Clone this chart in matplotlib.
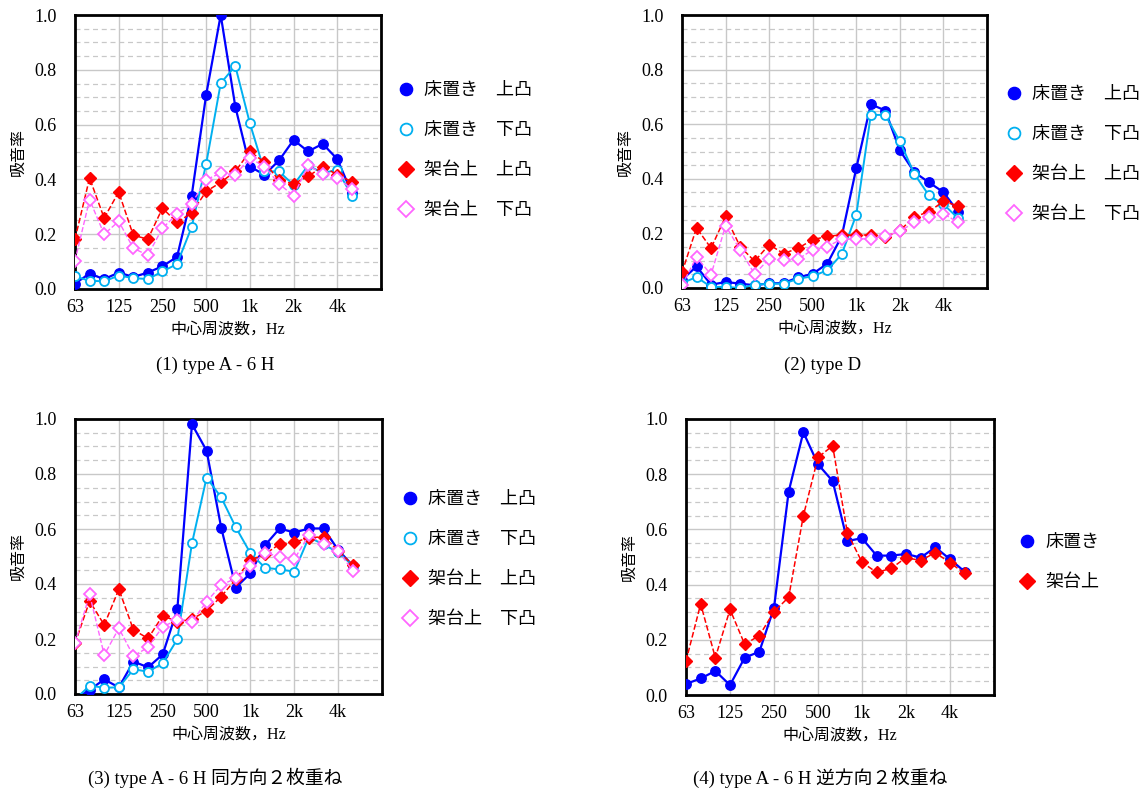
import matplotlib
matplotlib.use('Agg')
import matplotlib.pyplot as plt
from matplotlib.ticker import MultipleLocator, FixedLocator, FormatStrFormatter
import numpy as np

plt.rcParams['font.family'] = ['Liberation Serif', 'Noto Sans CJK JP']

# 1/3オクターブ中心周波数 (63Hz - 5kHz)
freqs = ['63', '80', '100', '125', '160', '200', '250', '315', '400', '500',
         '630', '800', '1k', '1.25k', '1.6k', '2k', '2.5k', '3.15k', '4k', '5k']
tick_labels = ['63', '125', '250', '500', '1k', '2k', '4k']

# (1) type A - 6 H
a6h_floor_up = [0.02, 0.056, 0.036, 0.06, 0.044, 0.06, 0.083, 0.117, 0.338, 0.708,
                1.0, 0.666, 0.447, 0.417, 0.469, 0.544, 0.502, 0.53, 0.474, 0.35]
a6h_floor_down = [0.046, 0.03, 0.028, 0.049, 0.04, 0.036, 0.064, 0.091, 0.225, 0.456,
                  0.751, 0.814, 0.605, 0.43, 0.429, 0.38, 0.451, 0.423, 0.435, 0.341]
a6h_stand_up = [0.182, 0.405, 0.259, 0.354, 0.196, 0.182, 0.295, 0.243, 0.277, 0.356,
                0.389, 0.429, 0.502, 0.463, 0.396, 0.384, 0.411, 0.447, 0.417, 0.392]
a6h_stand_down = [0.103, 0.326, 0.2, 0.247, 0.149, 0.123, 0.222, 0.273, 0.311, 0.399,
                  0.423, 0.417, 0.478, 0.447, 0.384, 0.34, 0.451, 0.42, 0.405, 0.365]

# (2) type D
d_floor_up = [0.03, 0.079, 0.012, 0.022, 0.016, 0.01, 0.017, 0.018, 0.039, 0.052,
              0.089, 0.19, 0.439, 0.673, 0.65, 0.504, 0.424, 0.387, 0.351, 0.28]
d_floor_down = [0.018, 0.04, 0.004, 0.004, 0.0, 0.012, 0.016, 0.016, 0.034, 0.043,
                0.065, 0.124, 0.268, 0.634, 0.634, 0.537, 0.418, 0.339, 0.307, 0.256]
d_stand_up = [0.057, 0.22, 0.146, 0.262, 0.152, 0.098, 0.159, 0.126, 0.146, 0.177,
              0.189, 0.195, 0.193, 0.195, 0.187, 0.211, 0.26, 0.28, 0.317, 0.301]
d_stand_down = [0.01, 0.113, 0.049, 0.228, 0.14, 0.051, 0.107, 0.101, 0.106, 0.14,
                0.152, 0.179, 0.18, 0.18, 0.191, 0.207, 0.241, 0.259, 0.272, 0.241]

# (3) type A - 6 H 同方向2枚重ね
same_floor_up = [-0.02, 0.015, 0.053, 0.024, 0.118, 0.097, 0.144, 0.308, 0.981, 0.885,
                 0.605, 0.387, 0.439, 0.541, 0.602, 0.587, 0.602, 0.602, 0.524, 0.467]
same_floor_down = [-0.02, 0.03, 0.023, 0.024, 0.09, 0.081, 0.112, 0.199, 0.548, 0.787,
                   0.715, 0.606, 0.512, 0.459, 0.453, 0.445, 0.57, 0.544, 0.515, 0.467]
same_stand_up = [0.184, 0.338, 0.251, 0.381, 0.233, 0.202, 0.285, 0.263, 0.272, 0.303,
                 0.354, 0.418, 0.487, 0.509, 0.545, 0.552, 0.568, 0.572, 0.521, 0.469]
same_stand_down = [0.184, 0.362, 0.142, 0.239, 0.138, 0.17, 0.245, 0.269, 0.263, 0.336,
                   0.396, 0.421, 0.467, 0.514, 0.499, 0.49, 0.578, 0.545, 0.521, 0.448]

# (4) type A - 6 H 逆方向2枚重ね
rev_floor = [0.04, 0.06, 0.087, 0.036, 0.135, 0.157, 0.316, 0.737, 0.952, 0.836,
             0.775, 0.558, 0.568, 0.505, 0.505, 0.511, 0.498, 0.535, 0.492, 0.447]
rev_stand = [0.123, 0.33, 0.135, 0.31, 0.184, 0.215, 0.302, 0.354, 0.649, 0.861,
             0.903, 0.588, 0.481, 0.444, 0.459, 0.498, 0.487, 0.516, 0.479, 0.441]

# 系列のスタイル
styles = {
    '床置き　上凸': dict(color='#0000FF', marker='o', ls='-', lw=1.6, ms=6.8, mfc='#0000FF'),
    '床置き　下凸': dict(color='#00B0F0', marker='o', ls='-', lw=1.4, ms=6.5, mfc='white', mew=1.3),
    '架台上　上凸': dict(color='#FF0000', marker='D', ls='--', lw=1.1, ms=6, mfc='#FF0000'),
    '架台上　下凸': dict(color='#FF66FF', marker='D', ls='--', lw=1.0, ms=6, mfc='white', mew=1.3),
    '床置き': dict(color='#0000FF', marker='o', ls='-', lw=1.6, ms=6.8, mfc='#0000FF'),
    '架台上': dict(color='#FF0000', marker='D', ls='--', lw=1.1, ms=6, mfc='#FF0000'),
}

W, H = 1147, 794
fig = plt.figure(figsize=(W / 100, H / 100), dpi=100)


def add_panel(box, series, caption, cap_xy, leg_xy):
    left, top, right, bottom = box
    ax = fig.add_axes([left / W, 1 - bottom / H, (right - left) / W, (bottom - top) / H])
    x = np.arange(len(freqs))
    handles = []
    for label, vals in series:
        st = styles[label]
        ax.plot(x, vals, color=st['color'], ls=st['ls'], lw=st['lw'],
                marker=st['marker'], ms=st['ms'], mfc=st['mfc'],
                mec=st['color'], mew=st.get('mew', 1.0), zorder=3)
        h, = ax.plot([], [], ls='none', marker=st['marker'], ms=st['ms'] + 2,
                     mfc=st['mfc'], mec=st['color'], mew=st.get('mew', 1.0))
        handles.append((h, label))

    ax.set_xlim(0, 21)
    ax.set_ylim(0, 1.0)
    ax.xaxis.set_major_locator(FixedLocator(np.arange(0, 19, 3)))
    ax.set_xticklabels(tick_labels)
    ax.yaxis.set_major_locator(MultipleLocator(0.2))
    ax.yaxis.set_minor_locator(MultipleLocator(0.05))
    ax.yaxis.set_major_formatter(FormatStrFormatter('%.1f'))
    ax.tick_params(which='both', length=0, labelsize=13)
    ax.tick_params(axis='x', pad=7)
    ax.tick_params(axis='y', pad=13)
    for v in range(3, 21, 3):
        ax.axvline(v, color='#C8C8C8', lw=1.0, zorder=1)
    ax.grid(True, axis='y', which='major', color='#C8C8C8', lw=1.0, zorder=1)
    ax.grid(True, axis='y', which='minor', color='#C8C8C8', lw=0.9, ls=(0, (4, 3)), zorder=1)
    ax.set_axisbelow(True)
    for sp in ax.spines.values():
        sp.set_linewidth(2.0)
        sp.set_color('black')

    ax.set_ylabel('吸音率', family=['Noto Sans CJK JP'], fontsize=11.5, labelpad=6)
    ax.set_xlabel('中心周波数，Hz', family=['Liberation Serif', 'Noto Sans CJK JP'],
                  fontsize=11.5, labelpad=4)

    fig.legend([h for h, _ in handles], [l for _, l in handles],
               loc='upper left', bbox_to_anchor=(leg_xy[0] / W, 1 - leg_xy[1] / H),
               frameon=False, handlelength=1.0, handletextpad=0.5,
               labelspacing=1.22, borderaxespad=0,
               prop=dict(family=['Noto Sans CJK JP'], size=13))

    fig.text(cap_xy[0] / W, 1 - cap_xy[1] / H, caption, ha='center', va='center',
             fontsize=13.5, family=['Liberation Serif', 'Noto Sans CJK JP'])
    return ax


add_panel((75, 15, 381, 289),
          [('床置き　上凸', a6h_floor_up), ('床置き　下凸', a6h_floor_down),
           ('架台上　上凸', a6h_stand_up), ('架台上　下凸', a6h_stand_down)],
          '(1) type A - 6 H', (215, 365), (390, 74))

add_panel((682, 15, 987, 288),
          [('床置き　上凸', d_floor_up), ('床置き　下凸', d_floor_down),
           ('架台上　上凸', d_stand_up), ('架台上　下凸', d_stand_down)],
          '(2) type D', (823, 365), (998, 78))

add_panel((75, 419, 382, 694),
          [('床置き　上凸', same_floor_up), ('床置き　下凸', same_floor_down),
           ('架台上　上凸', same_stand_up), ('架台上　下凸', same_stand_down)],
          '(3) type A - 6 H 同方向２枚重ね', (215, 778), (394, 483))

add_panel((686, 419, 994, 695),
          [('床置き', rev_floor), ('架台上', rev_stand)],
          '(4) type A - 6 H 逆方向２枚重ね', (820, 778), (1011, 526))

fig.savefig('out.png', dpi=100)
